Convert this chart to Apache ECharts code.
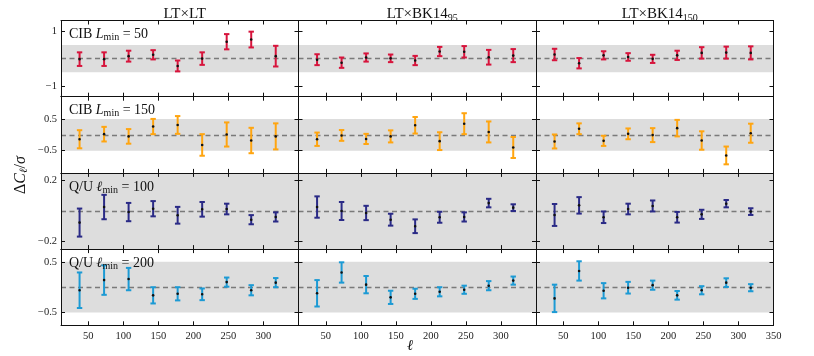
<!DOCTYPE html>
<html>
<head>
<meta charset="utf-8">
<script src="https://cdn.jsdelivr.net/npm/echarts@6/dist/echarts.min.js"></script>
<style>
  html, body { margin: 0; padding: 0; background: #fff; }
  #chart { width: 814px; height: 356px; }
</style>
</head>
<body>
<div id="chart"></div>
<script>
// bin centres in ell
const ell = [37.5, 72.5, 107.5, 142.5, 177.5, 212.5, 247.5, 282.5, 317.5];

// column titles (main part + subscript)
const colTitles = ['LT×LT', 'LT×BK14', 'LT×BK14'];
const colSubs = ['', '95', '150'];

// row labels
const rowNames = ['CIB', 'CIB', 'Q/U', 'Q/U'];
const rowVars = ['L', 'L', 'ℓ', 'ℓ'];
const rowLmin = [50, 150, 100, 200];
const rowColors = ['#d7143c', '#ffa510', '#2a2a86', '#1c9ad4'];

// y ranges and tick labels per row
const rowYMax = [1.4, 1.2, 0.25, 0.75];
const rowYTicks = [[-1, 1], [-0.5, 0.5], [-0.2, 0.2], [-0.5, 0.5]];
const bandHalf = 0.5;

// x axis
const xMin = 11, xMax = 350;
const xTicks = [50, 100, 150, 200, 250, 300];
const xTicksLast = [50, 100, 150, 200, 250, 300, 350];

// values per row: [LTxLT, LTxBK14_95, LTxBK14_150]
const cib50Mean = [
  [-0.02, -0.02, 0.09, 0.14, -0.27, 0.00, 0.62, 0.70, 0.09],
  [-0.04, -0.15, 0.04, 0.01, -0.07, 0.26, 0.25, 0.05, 0.11],
  [0.15, -0.17, 0.12, 0.06, -0.01, 0.12, 0.21, 0.22, 0.21]
];
const cib50Err = [
  [0.25, 0.25, 0.20, 0.17, 0.20, 0.23, 0.28, 0.29, 0.38],
  [0.20, 0.19, 0.15, 0.14, 0.17, 0.17, 0.21, 0.27, 0.24],
  [0.21, 0.19, 0.15, 0.14, 0.15, 0.17, 0.21, 0.22, 0.24]
];
const cib150Mean = [
  [-0.14, 0.02, -0.05, 0.26, 0.31, -0.32, 0.01, -0.18, -0.05],
  [-0.14, -0.02, -0.13, -0.05, 0.30, -0.20, 0.35, 0.09, -0.40],
  [-0.21, 0.19, -0.19, 0.03, -0.01, 0.21, -0.18, -0.65, 0.05]
];
const cib150Err = [
  [0.285, 0.23, 0.23, 0.24, 0.28, 0.34, 0.38, 0.40, 0.41],
  [0.21, 0.17, 0.16, 0.19, 0.26, 0.28, 0.33, 0.33, 0.33],
  [0.22, 0.17, 0.16, 0.17, 0.22, 0.26, 0.29, 0.28, 0.30]
];
const qu100Mean = [
  [-0.076, 0.026, -0.007, 0.015, -0.028, 0.011, 0.013, -0.057, -0.039],
  [0.026, 0.000, -0.013, -0.057, -0.100, -0.041, -0.039, 0.052, 0.022],
  [-0.026, 0.037, -0.041, 0.013, 0.033, -0.041, -0.022, 0.048, -0.004]
];
const qu100Err = [
  [0.092, 0.080, 0.060, 0.050, 0.055, 0.048, 0.035, 0.030, 0.030],
  [0.070, 0.059, 0.047, 0.039, 0.045, 0.036, 0.030, 0.028, 0.022],
  [0.072, 0.054, 0.038, 0.035, 0.036, 0.035, 0.030, 0.024, 0.022]
];
const qu200Mean = [
  [-0.06, 0.14, 0.16, -0.16, -0.13, -0.14, 0.10, -0.06, 0.09],
  [-0.12, 0.29, 0.05, -0.20, -0.13, -0.09, -0.05, 0.03, 0.13],
  [-0.22, 0.32, -0.07, -0.01, 0.04, -0.16, -0.06, 0.09, -0.01]
];
const qu200Err = [
  [0.35, 0.29, 0.22, 0.16, 0.13, 0.115, 0.09, 0.10, 0.09],
  [0.26, 0.20, 0.17, 0.13, 0.10, 0.09, 0.08, 0.09, 0.08],
  [0.27, 0.19, 0.15, 0.115, 0.09, 0.085, 0.08, 0.085, 0.07]
];

const rowMeans = [cib50Mean, cib150Mean, qu100Mean, qu200Mean];
const rowErrs = [cib50Err, cib150Err, qu100Err, qu200Err];

const serif = '"Liberation Serif", "DejaVu Serif", serif';
const gridLeft = 61, colW = 237.5, gridTop = 20.5, rowH = 76.2;

function fmt(v) {
  return v < 0 ? '\u2212' + Math.abs(v) : String(v);
}

function errRender(color) {
  return function (params, api) {
    const x = api.value(0), y = api.value(1), e = api.value(2);
    const c = api.coord([x, y]);
    const hi = api.coord([x, y + e]);
    const lo = api.coord([x, y - e]);
    const w = 2.7;
    const st = { stroke: color, lineWidth: 2 };
    return {
      type: 'group',
      children: [
        { type: 'line', shape: { x1: c[0], y1: hi[1], x2: c[0], y2: lo[1] }, style: st },
        { type: 'line', shape: { x1: c[0] - w, y1: hi[1], x2: c[0] + w, y2: hi[1] }, style: st },
        { type: 'line', shape: { x1: c[0] - w, y1: lo[1], x2: c[0] + w, y2: lo[1] }, style: st },
        { type: 'circle', shape: { cx: c[0], cy: c[1], r: 1.3 }, style: { fill: '#111' } }
      ]
    };
  };
}

function bandRender(params, api) {
  const p1 = api.coord([xMin, api.value(1)]);
  const p2 = api.coord([xMax, api.value(0)]);
  const rect = echarts.graphic.clipRectByRect(
    { x: p1[0], y: p1[1], width: p2[0] - p1[0], height: p2[1] - p1[1] },
    { x: params.coordSys.x, y: params.coordSys.y, width: params.coordSys.width, height: params.coordSys.height }
  );
  return rect && { type: 'rect', shape: rect, style: { fill: '#dddddd' } };
}

const grids = [], xAxes = [], yAxes = [], series = [];
const axisLine = { show: true, onZero: false, lineStyle: { color: '#111', width: 1 } };
const tickStyle = { color: '#111', width: 1 };

for (let r = 0; r < 4; r++) {
  for (let c = 0; c < 3; c++) {
    const g = grids.length;
    grids.push({ left: gridLeft + c * colW, top: gridTop + r * rowH, width: colW, height: rowH });
    const ticksX = c === 2 ? xTicksLast : xTicks;
    xAxes.push({
      type: 'value', gridIndex: g, position: 'bottom', min: xMin, max: xMax, z: 5,
      axisLine: axisLine, splitLine: { show: false },
      axisTick: { show: true, inside: true, length: 4, lineStyle: tickStyle, customValues: ticksX },
      axisLabel: { show: r === 3, customValues: ticksX, fontFamily: serif, fontSize: 10.5, color: '#222', margin: 5 }
    });
    xAxes.push({
      type: 'value', gridIndex: g, position: 'top', min: xMin, max: xMax, z: 5,
      axisLine: axisLine, splitLine: { show: false },
      axisTick: { show: true, inside: true, length: 4, lineStyle: tickStyle, customValues: ticksX },
      axisLabel: { show: false }
    });
    yAxes.push({
      type: 'value', gridIndex: g, position: 'left', min: -rowYMax[r], max: rowYMax[r], z: 5,
      axisLine: axisLine, splitLine: { show: false },
      axisTick: { show: true, inside: true, length: 4, lineStyle: tickStyle, customValues: rowYTicks[r] },
      axisLabel: { show: c === 0, customValues: rowYTicks[r], formatter: fmt, fontFamily: serif, fontSize: 10.5, color: '#222', margin: 4 }
    });
    yAxes.push({
      type: 'value', gridIndex: g, position: 'right', min: -rowYMax[r], max: rowYMax[r], z: 5,
      axisLine: axisLine, splitLine: { show: false },
      axisTick: { show: true, inside: true, length: 4, lineStyle: tickStyle, customValues: rowYTicks[r] },
      axisLabel: { show: false }
    });

    series.push({
      type: 'custom', xAxisIndex: 2 * g, yAxisIndex: 2 * g, z: 1, silent: true,
      renderItem: bandRender, clip: true,
      data: [[-bandHalf, bandHalf]],
      markLine: {
        silent: true, symbol: 'none', label: { show: false }, z: 2,
        lineStyle: { type: [5, 3.5], color: '#7a7a7a', width: 1.3 },
        data: [{ yAxis: 0 }]
      }
    });
    series.push({
      type: 'custom', xAxisIndex: 2 * g, yAxisIndex: 2 * g, z: 3,
      renderItem: errRender(rowColors[r]),
      encode: { x: 0, y: 1 },
      data: ell.map((x, i) => [x, rowMeans[r][c][i], rowErrs[r][c][i]])
    });
  }
}

const titles = colTitles.map((t, c) => ({
  text: colSubs[c] ? '{a|' + t + '}{s|' + colSubs[c] + '}' : '{a|' + t + '}',
  left: gridLeft + c * colW + colW / 2, top: 0, textAlign: 'center',
  textStyle: {
    fontWeight: 'normal',
    rich: {
      a: { fontFamily: serif, fontSize: 15, fontWeight: 'normal', color: '#111', lineHeight: 18 },
      s: { fontFamily: serif, fontSize: 10, fontWeight: 'normal', color: '#111', lineHeight: 10, verticalAlign: 'bottom', padding: [9, 0, 0, 0] }
    }
  }
}));

const panelRich = {
  a: { fontFamily: serif, fontSize: 14, fill: '#111', lineHeight: 16 },
  i: { fontFamily: serif, fontSize: 14, fill: '#111', fontStyle: 'italic', lineHeight: 16 },
  s: { fontFamily: serif, fontSize: 10, fill: '#111', lineHeight: 10, verticalAlign: 'bottom', padding: [8, 0, 0, 0] }
};

const graphics = rowNames.map((n, r) => ({
  type: 'text', left: 69, top: gridTop + r * rowH + 4, z: 10,
  style: {
    text: '{a|' + n + ' }{i|' + rowVars[r] + '}{s|min}{a| = ' + rowLmin[r] + '}',
    rich: panelRich
  }
}));

graphics.push({
  type: 'text', x: 21, y: 175, rotation: Math.PI / 2, z: 10,
  style: {
    text: '{a|Δ}{i|C}{s|ℓ}{a|/}{i|σ}',
    align: 'center', verticalAlign: 'middle',
    rich: {
      a: { fontFamily: serif, fontSize: 16, fill: '#111', lineHeight: 18 },
      i: { fontFamily: serif, fontSize: 16, fill: '#111', fontStyle: 'italic', lineHeight: 18 },
      s: { fontFamily: serif, fontSize: 11, fill: '#111', fontStyle: 'italic', lineHeight: 11, verticalAlign: 'bottom', padding: [8, 0, 0, 0] }
    }
  }
});
graphics.push({
  type: 'text', x: 410, y: 346, z: 10,
  style: { text: 'ℓ', fontFamily: serif, fontSize: 15, fontStyle: 'italic', fill: '#111', align: 'center', verticalAlign: 'middle' }
});

const chart = echarts.init(document.getElementById('chart'), null, { renderer: 'canvas' });
chart.setOption({
  animation: false,
  backgroundColor: '#fff',
  title: titles,
  grid: grids,
  xAxis: xAxes,
  yAxis: yAxes,
  series: series,
  graphic: graphics
});
</script>
</body>
</html>
